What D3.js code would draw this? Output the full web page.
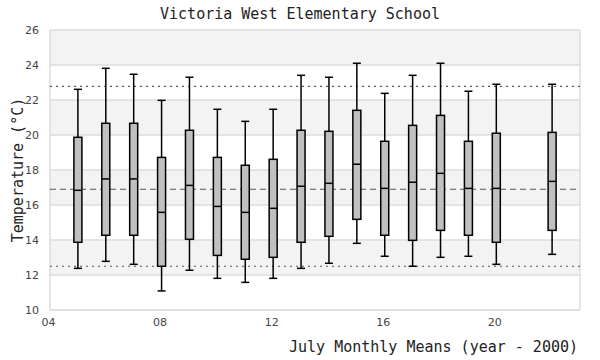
<!DOCTYPE html>
<html>
<head>
<meta charset="utf-8">
<script src="https://cdn.jsdelivr.net/npm/d3@7"></script>
<style>
  html, body { margin: 0; padding: 0; background: #fff; }
  svg { display: block; }
</style>
</head>
<body>
<svg id="chart" width="600" height="360"></svg>
<script>
// Data
const years   = [5, 6, 7, 8, 9, 10, 11, 12, 13, 14, 15, 16, 17, 18, 19, 20, 22];
const mins    = [12.38, 12.78, 12.61, 11.09, 12.27, 11.81, 11.58, 11.81, 12.38, 12.67, 13.81, 13.07, 12.5, 13.01, 13.07, 12.61, 13.18];
const q1s     = [13.87, 14.27, 14.27, 12.5, 14.04, 13.12, 12.9, 13.01, 13.87, 14.21, 15.18, 14.27, 13.98, 14.55, 14.27, 13.87, 14.55];
const medians = [16.84, 17.49, 17.49, 15.58, 17.12, 15.92, 15.58, 15.81, 17.07, 17.24, 18.33, 16.95, 17.3, 17.81, 16.95, 16.95, 17.35];
const q3s     = [19.87, 20.67, 20.67, 18.72, 20.27, 18.72, 18.27, 18.61, 20.27, 20.21, 21.41, 19.64, 20.55, 21.12, 19.64, 20.1, 20.15];
const maxs    = [22.61, 23.81, 23.47, 21.98, 23.3, 21.47, 20.78, 21.47, 23.41, 23.3, 24.1, 22.38, 23.41, 24.1, 22.5, 22.9, 22.9];
const xTicks  = [4, 8, 12, 16, 20];
const yTicks  = [10, 12, 14, 16, 18, 20, 22, 24, 26];
const meanLine = 16.9;
const lowLine  = 12.5;
const highLine = 22.78;
const title  = "Victoria West Elementary School";
const xLabel = "July Monthly Means (year - 2000)";
const yLabel = "Temperature (°C)";

const rows = years.map((y, i) => ({year: y, min: mins[i], q1: q1s[i], med: medians[i], q3: q3s[i], max: maxs[i]}));

const svg = d3.select("#chart");
const L = 50, R = 580, T = 30, B = 310;
const x = d3.scaleLinear().domain([4, 23]).range([L, R]);
const y = d3.scaleLinear().domain([10, 26]).range([B, T]);

// background bands
const bands = d3.range(10, 26, 2);
svg.append("g").selectAll("rect").data(bands).join("rect")
  .attr("x", L).attr("width", R - L)
  .attr("y", d => y(d + 2)).attr("height", d => y(d) - y(d + 2))
  .attr("fill", (d, i) => i % 2 === 1 ? "#f3f3f3" : "#ffffff");

// grid lines
svg.append("g").selectAll("line").data(yTicks).join("line")
  .attr("x1", L).attr("x2", R)
  .attr("y1", d => y(d)).attr("y2", d => y(d))
  .attr("stroke", "#dddddd").attr("stroke-width", 1.5);

// frame
svg.append("line").attr("x1", L).attr("x2", L).attr("y1", T).attr("y2", B)
  .attr("stroke", "#dddddd").attr("stroke-width", 1.5);
svg.append("line").attr("x1", R).attr("x2", R).attr("y1", T).attr("y2", B)
  .attr("stroke", "#dddddd").attr("stroke-width", 1.5);

// reference lines
[[highLine, "2,4"], [lowLine, "2,4"], [meanLine, "6,4"]].forEach(([v, dash]) => {
  svg.append("line").attr("x1", L).attr("x2", R)
    .attr("y1", y(v)).attr("y2", y(v))
    .attr("stroke", "#555555").attr("stroke-width", 1.2)
    .attr("stroke-dasharray", dash);
});

// axes
const yAxis = d3.axisLeft(y).tickValues(yTicks).tickSize(0).tickPadding(0);
const gy = svg.append("g").attr("transform", `translate(${L - 11},0)`).call(yAxis);
gy.select(".domain").remove();
gy.selectAll("text").attr("fill", "#444").style("font-family", "DejaVu Sans, sans-serif").style("font-size", "11px");

const xAxis = d3.axisBottom(x).tickValues(xTicks).tickSize(0).tickPadding(0)
  .tickFormat(d3.format("02d"));
const gx = svg.append("g").attr("transform", `translate(-2,${B + 8})`).call(xAxis);
gx.select(".domain").remove();
gx.selectAll("text").attr("fill", "#444").style("font-family", "DejaVu Sans, sans-serif").style("font-size", "11px");

// boxes
const bw = 8, cw = 8;
const g = svg.append("g");
const box = g.selectAll("g.box").data(rows).join("g").attr("class", "box");
box.append("line")
  .attr("x1", d => x(d.year)).attr("x2", d => x(d.year))
  .attr("y1", d => y(d.max)).attr("y2", d => y(d.min))
  .attr("stroke", "#000").attr("stroke-width", 1.5);
box.append("line")
  .attr("x1", d => x(d.year) - cw / 2).attr("x2", d => x(d.year) + cw / 2)
  .attr("y1", d => y(d.max)).attr("y2", d => y(d.max))
  .attr("stroke", "#000").attr("stroke-width", 1.5);
box.append("line")
  .attr("x1", d => x(d.year) - cw / 2).attr("x2", d => x(d.year) + cw / 2)
  .attr("y1", d => y(d.min)).attr("y2", d => y(d.min))
  .attr("stroke", "#000").attr("stroke-width", 1.5);
box.append("rect")
  .attr("x", d => x(d.year) - bw / 2).attr("width", bw)
  .attr("y", d => y(d.q3)).attr("height", d => y(d.q1) - y(d.q3))
  .attr("fill", "#c0c0c0").attr("stroke", "#000").attr("stroke-width", 1.5);
box.append("line")
  .attr("x1", d => x(d.year) - bw / 2).attr("x2", d => x(d.year) + bw / 2)
  .attr("y1", d => y(d.med)).attr("y2", d => y(d.med))
  .attr("stroke", "#000").attr("stroke-width", 1.5);

// bottom frame line on top of bands
svg.append("line").attr("x1", L).attr("x2", R).attr("y1", B).attr("y2", B)
  .attr("stroke", "#dddddd").attr("stroke-width", 1.5);

// texts
svg.append("text").attr("x", 300).attr("y", 19).attr("text-anchor", "middle")
  .style("font-family", "DejaVu Sans Mono, monospace").style("font-size", "15px")
  .attr("fill", "#222").text(title);
svg.append("text").attr("x", 578).attr("y", 352).attr("text-anchor", "end")
  .style("font-family", "DejaVu Sans Mono, monospace").style("font-size", "15px")
  .attr("fill", "#222").text(xLabel);
svg.append("text").attr("transform", `translate(23,${(T + B) / 2}) rotate(-90)`)
  .attr("text-anchor", "middle")
  .style("font-family", "DejaVu Sans Mono, monospace").style("font-size", "15px")
  .attr("fill", "#222").text(yLabel);
</script>
</body>
</html>
